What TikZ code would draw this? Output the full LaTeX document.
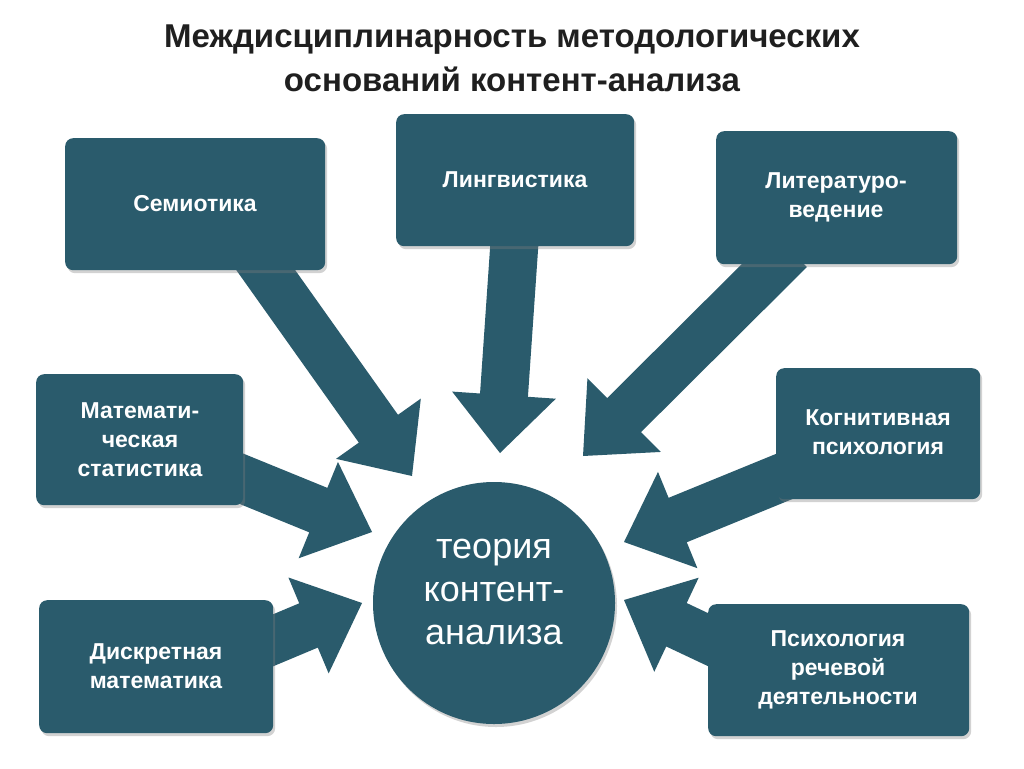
\documentclass[tikz,border=0pt]{standalone}
\usepackage{fontspec}
\setmainfont{Liberation Sans}
\usetikzlibrary{calc,shadows}
\definecolor{teal}{HTML}{2A5B6C}
\definecolor{ttl}{HTML}{1F1F1F}
\tikzset{
  box/.style={rectangle, rounded corners=8pt, fill=teal, draw=none, anchor=north west,
    drop shadow={shadow xshift=2pt, shadow yshift=-3pt, opacity=0.35}},
  lbl/.style={text=white, font=\bfseries\fontsize{23}{29}\selectfont, align=center},
  arr/.style={fill=teal, draw=none}
}
\newcommand\barrow[2]{%
  \coordinate (H) at ($(#2)!58pt!(#1)$);
  \fill[arr] ($(#1)!24pt!90:(#2)$) -- ($(H)!24pt!-90:(#1)$) -- ($(H)!52pt!-90:(#1)$) -- (#2)
    -- ($(H)!52pt!90:(#1)$) -- ($(H)!24pt!90:(#1)$) -- ($(#1)!24pt!-90:(#2)$) -- cycle;}
\begin{document}
\begin{tikzpicture}[x=1pt,y=-1pt]
\useasboundingbox (0,0) rectangle (1024,768);
\fill[white] (0,0) rectangle (1024,768);
\node[text=ttl, font=\bfseries\fontsize{33}{44}\selectfont, align=center] (title) at (512,58)
  {Междисциплинарность методологических\\оснований контент-анализа};
\coordinate (s1) at (255,255); \coordinate (t1) at (412,476);
\coordinate (s2) at (515,235); \coordinate (t2) at (500,453);
\coordinate (s3) at (790,250); \coordinate (t3) at (583,456);
\coordinate (s4) at (220,470); \coordinate (t4) at (372,532);
\coordinate (s5) at (800,470); \coordinate (t5) at (624,542);
\coordinate (s6) at (250,650); \coordinate (t6) at (362,603);
\coordinate (s7) at (730,650); \coordinate (t7) at (624,600);
\barrow{s1}{t1}\barrow{s2}{t2}\barrow{s3}{t3}\barrow{s4}{t4}
\barrow{s5}{t5}\barrow{s6}{t6}\barrow{s7}{t7}
\node[box, minimum width=260pt, minimum height=132pt] (b1) at (65,138) {};
\node[lbl] (l1) at (195,204) {Семиотика};
\node[box, minimum width=238pt, minimum height=132pt] (b2) at (396,114) {};
\node[lbl] (l2) at (515,180) {Лингвистика};
\node[box, minimum width=241pt, minimum height=133pt] (b3) at (716,131) {};
\node[lbl] (l3) at (836,197) {Литературо-\\ведение};
\node[box, minimum width=207pt, minimum height=131pt] (b4) at (36,374) {};
\node[lbl] (l4) at (140,440) {Математи-\\ческая\\статистика};
\node[box, minimum width=204pt, minimum height=131pt] (b5) at (776,368) {};
\node[lbl] (l5) at (878,432) {Когнитивная\\психология};
\node[box, minimum width=234pt, minimum height=133pt] (b6) at (39,600) {};
\node[lbl] (l6) at (156,666) {Дискретная\\математика};
\node[box, minimum width=261pt, minimum height=132pt] (b7) at (708,604) {};
\node[lbl] (l7) at (838,670) {Психология\\речевой\\деятельности};
\node[circle, fill=teal, minimum size=242pt, inner sep=0pt,
  drop shadow={shadow xshift=2pt, shadow yshift=-3pt, opacity=0.35}] (c) at (494,603) {};
\node[text=white, font=\fontsize{36}{43}\selectfont, align=center] (cl) at (494,592) {теория\\контент-\\анализа};
\end{tikzpicture}
\end{document}
